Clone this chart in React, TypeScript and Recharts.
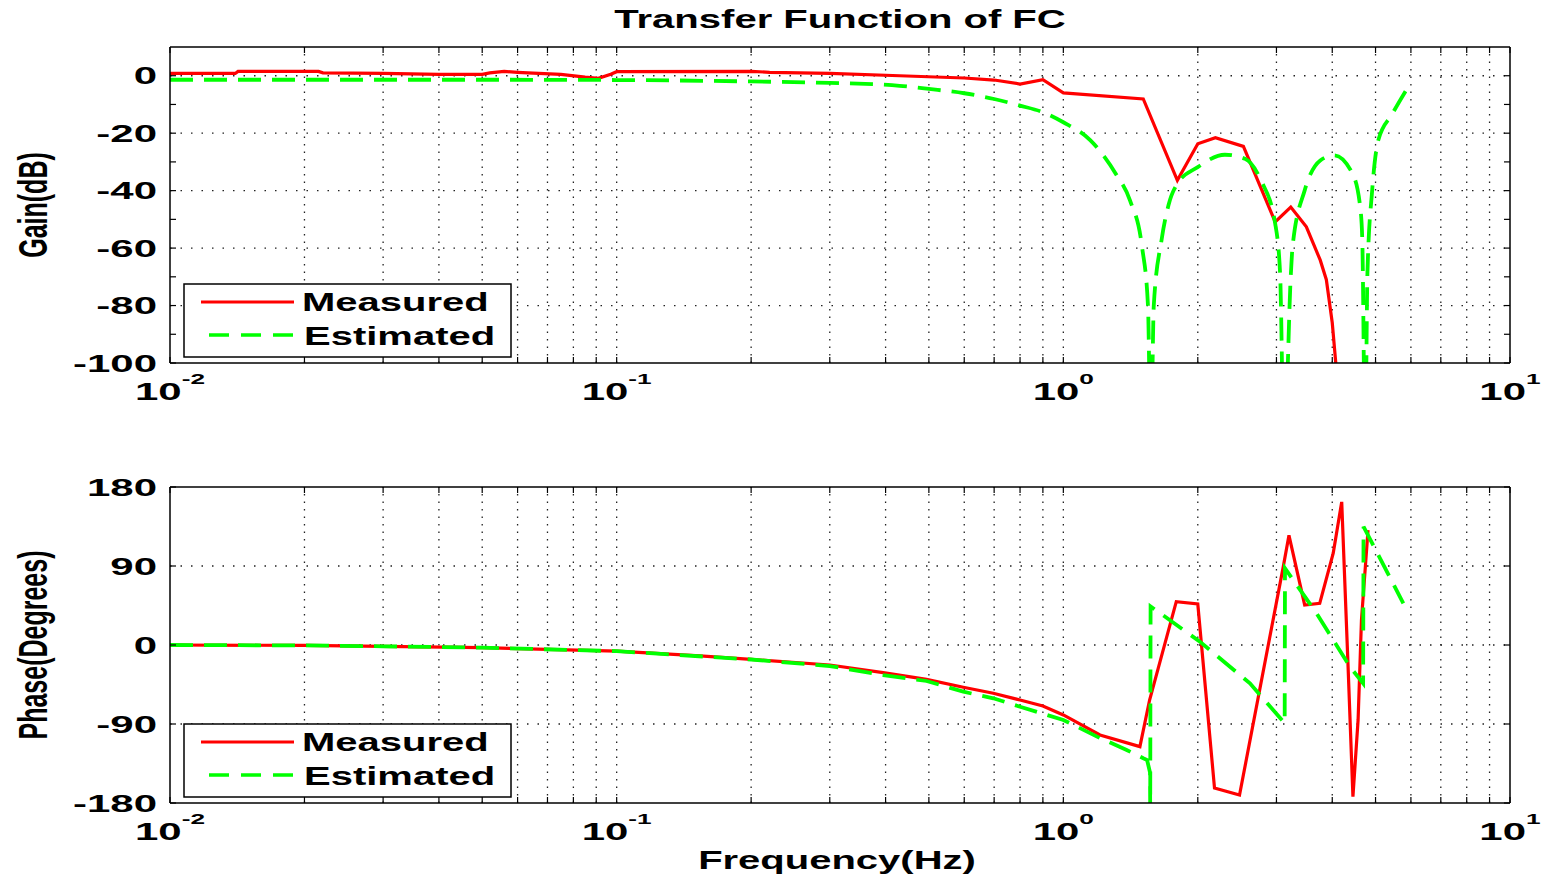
import React from 'react';
import { LineChart, Line, XAxis, YAxis, ReferenceLine, Legend, Label } from 'recharts';

const RED = '#ff0000';
const GREEN = '#00ff00';
const FONT = '"Liberation Sans", Arial, Helvetica, sans-serif';
// the original picture is stretched sideways, so its text is too
const SX = 1.6;
const SX_TICK = 1.75;

// frequency axis (log)
const freqTicks = [0.01, 0.02, 0.03, 0.04, 0.05, 0.06, 0.07, 0.08, 0.09, 0.1, 0.2, 0.3, 0.4, 0.5, 0.6, 0.7, 0.8, 0.9, 1, 2, 3, 4, 5, 6, 7, 8, 9, 10];
const freqGrid = [0.02, 0.03, 0.04, 0.05, 0.06, 0.07, 0.08, 0.09, 0.1, 0.2, 0.3, 0.4, 0.5, 0.6, 0.7, 0.8, 0.9, 1, 2, 3, 4, 5, 6, 7, 8, 9];
const decades = [0.01, 0.1, 1, 10];
const decadeExp = ['-2', '-1', '0', '1'];

// gain axis
const gainTicks = [-100, -90, -80, -70, -60, -50, -40, -30, -20, -10, 0];
const gainLabels = [-100, -80, -60, -40, -20, 0];
const gainGrid = [-80, -60, -40, -20, 0];

// phase axis
const phaseTicks = [-180, -90, 0, 90, 180];
const phaseGrid = [-90, 0, 90];

// measured gain (dB)
const gainMeasFreq = [0.01, 0.014, 0.0142, 0.0215, 0.022, 0.03, 0.04, 0.05, 0.052, 0.056, 0.06, 0.065, 0.075, 0.085, 0.091, 0.097, 0.1, 0.2, 0.22, 0.3, 0.43, 0.6, 0.7, 0.8, 0.9, 1.0, 1.51, 1.8, 2.0, 2.19, 2.53, 2.98, 3.23, 3.5, 3.76, 3.88, 4.0, 4.1];
const gainMeasVal = [0.8, 0.8, 1.5, 1.5, 1.0, 0.8, 0.5, 0.5, 1.0, 1.5, 1.2, 0.9, 0.5, -0.5, -0.9, 0.5, 1.4, 1.5, 1.2, 0.8, 0, -0.8, -1.5, -2.9, -1.4, -6, -8.1, -36.4, -23.7, -21.6, -24.6, -50.9, -45.7, -52.6, -64.2, -71, -86, -105];

// estimated gain (dB)
const gainEstFreq = [0.01, 0.05, 0.1, 0.2, 0.3, 0.43, 0.5, 0.6, 0.7, 0.8, 0.9, 1.0, 1.15, 1.31, 1.41, 1.5, 1.547, 1.57, 1.594, 1.66, 1.72, 1.8, 2.0, 2.3, 2.55, 2.77, 2.98, 3.057, 3.12, 3.232, 3.26, 3.47, 3.76, 4.04, 4.44, 4.62, 4.67, 4.74, 4.795, 4.914, 5.07, 5.45, 5.91];
const gainEstVal = [-1.4, -1.4, -1.5, -2.0, -2.5, -3.5, -4.6, -6.1, -8.1, -10.4, -12.7, -16.2, -22.5, -34.1, -43.4, -59.5, -80, -130, -80, -57, -45, -37.6, -31.8, -27.5, -28.9, -36.4, -51.4, -68.8, -130, -68.8, -59.5, -39.9, -29.5, -27.7, -34.1, -45.7, -57.2, -130, -68.8, -39.9, -22.5, -13.3, -4];

// measured phase (deg)
const phaseMeasFreq = [0.01, 0.02, 0.03, 0.05, 0.1, 0.1536, 0.2, 0.3, 0.395, 0.494, 0.597, 0.697, 0.8, 0.9, 1.0, 1.208, 1.484, 1.56, 1.79, 2.0, 2.18, 2.48, 3.107, 3.2, 3.47, 3.75, 4.02, 4.2, 4.34, 4.45, 4.57, 4.65, 4.81];
const phaseMeasVal = [0, -0.5, -1.5, -3, -7, -12.5, -16.3, -22.8, -31.5, -39.1, -48.2, -55, -62.7, -69.5, -79.7, -102.5, -115.8, -62.7, 49.4, 46.7, -163, -171, 89, 125, 45.6, 47.5, 104.5, 163, -24.7, -172.8, -85.4, 28.5, 131];

// estimated phase (deg)
const phaseEstFreq = [0.01, 0.02, 0.03, 0.05, 0.1, 0.2, 0.3, 0.395, 0.494, 0.597, 0.697, 0.8, 1.0, 1.208, 1.386, 1.51, 1.54, 1.563, 1.565, 1.568, 2.022, 2.617, 3.13, 3.135, 3.69, 4.38, 4.69, 4.7, 5.77];
const phaseEstVal = [0, -0.5, -1.5, -3, -7, -16.5, -24, -34.2, -41, -53.2, -60.7, -70.3, -85.4, -106, -119.6, -129, -131, -145, -185, 44, 3.8, -43.7, -89.2, 87.4, 36, -24.7, -43.7, 134.8, 47.5];

const toPoints = (fs: number[], vs: number[]) => fs.map((f, i) => ({ f, v: vs[i] }));

const TICK_LEN = 6;

const BottomTick = (props: any) => {
  const { x, y, payload } = props;
  const i = decades.indexOf(payload.value);
  return (
    <g>
      <line x1={x} y1={y} x2={x} y2={y - TICK_LEN} stroke="#000" strokeWidth={1.2} />
      {i >= 0 && (
        <text transform={`translate(${x},${y + 37}) scale(${SX_TICK},1)`} textAnchor="middle" fontFamily={FONT} fontWeight="bold" fontSize={24} fill="#000">
          10<tspan dy={-16} fontSize={15}>{decadeExp[i]}</tspan>
        </text>
      )}
    </g>
  );
};

const TopTick = (props: any) => {
  const { x, y } = props;
  return <line x1={x} y1={y} x2={x} y2={y + TICK_LEN} stroke="#000" strokeWidth={1.2} />;
};

const makeLeftTick = (labels: number[]) => (props: any) => {
  const { x, y, payload } = props;
  return (
    <g>
      <line x1={x} y1={y} x2={x + TICK_LEN} y2={y} stroke="#000" strokeWidth={1.2} />
      {labels.includes(payload.value) && (
        <text transform={`translate(${x - 13},${y + 8.5}) scale(${SX_TICK},1)`} textAnchor="end" fontFamily={FONT} fontWeight="bold" fontSize={24} fill="#000">
          {payload.value}
        </text>
      )}
    </g>
  );
};

const RightTick = (props: any) => {
  const { x, y } = props;
  return <line x1={x} y1={y} x2={x - TICK_LEN} y2={y} stroke="#000" strokeWidth={1.2} />;
};

const yLabel = (text: string) => (props: any) => {
  const vb = props.viewBox;
  return (
    <text transform={`translate(47,${vb.y + vb.height / 2}) scale(${SX},1) rotate(-90)`} textAnchor="middle" fontFamily={FONT} fontWeight="bold" fontSize={25} fill="#000">
      {text}
    </text>
  );
};

const TitleLabel = (props: any) => {
  const vb = props.viewBox;
  return (
    <text transform={`translate(${vb.x + vb.width / 2},${vb.y - 18}) scale(1.54,1)`} textAnchor="middle" fontFamily={FONT} fontWeight="bold" fontSize={26} fill="#000">
      Transfer Function of FC
    </text>
  );
};

const XLabel = (props: any) => {
  const vb = props.viewBox;
  return (
    <text transform={`translate(${vb.x + vb.width / 2 - 3},${vb.y + 66}) scale(${SX},1)`} textAnchor="middle" fontFamily={FONT} fontWeight="bold" fontSize={25} fill="#000">
      Frequency(Hz)
    </text>
  );
};

const LegendBox = () => (
  <svg width={329} height={76} style={{ display: 'block' }}>
    <rect x={1} y={1} width={327} height={73} fill="#fff" stroke="#000" strokeWidth={1.5} />
    <line x1={18} y1={19} x2={111} y2={19} stroke={RED} strokeWidth={3} />
    <text transform={`translate(119,28) scale(${SX},1)`} fontFamily={FONT} fontWeight="bold" fontSize={25} fill="#000">Measured</text>
    <line x1={26} y1={52} x2={111} y2={52} stroke={GREEN} strokeWidth={3.5} strokeDasharray="20 12" />
    <text transform={`translate(121,62) scale(${SX},1)`} fontFamily={FONT} fontWeight="bold" fontSize={25} fill="#000">Estimated</text>
  </svg>
);

const axisLine = { stroke: '#000', strokeWidth: 1.5 };
const gridH = { stroke: '#222', strokeWidth: 1.3, strokeDasharray: '1.5 9' };
const gridV = { stroke: '#222', strokeWidth: 1.3, strokeDasharray: '1.5 6' };

function Panel(props: {
  top: number;
  yDomain: [number, number];
  yTicks: number[];
  yLabels: number[];
  yGrid: number[];
  yTitle: string;
  measured: { f: number; v: number }[];
  estimated: { f: number; v: number }[];
  smoothEstimate: boolean;
  title?: boolean;
  xTitle?: boolean;
  legendTop: number;
}) {
  const { top, yDomain, yTicks, yLabels, yGrid, yTitle, measured, estimated } = props;
  const bottomH = props.xTitle ? 73 : 75;
  return (
    <LineChart width={1550} height={438} margin={{ top: top - 1, right: 39, bottom: 0, left: 0 }}>
      <XAxis xAxisId={0} dataKey="f" type="number" scale="log" domain={[0.01, 10]} allowDataOverflow ticks={freqTicks} interval={0}
        tick={BottomTick} tickSize={0} tickMargin={0} tickLine={false} axisLine={axisLine} height={bottomH}>
        {props.xTitle && <Label content={XLabel} />}
      </XAxis>
      <XAxis xAxisId="top" orientation="top" dataKey="f" type="number" scale="log" domain={[0.01, 10]} allowDataOverflow ticks={freqTicks} interval={0}
        tick={TopTick} tickSize={0} tickMargin={0} tickLine={false} axisLine={axisLine} height={1}>
        {props.title && <Label content={TitleLabel} />}
      </XAxis>
      <YAxis yAxisId={0} type="number" domain={yDomain} allowDataOverflow ticks={yTicks} interval={0}
        tick={makeLeftTick(yLabels)} tickSize={0} tickMargin={0} tickLine={false} axisLine={axisLine} width={170}>
        <Label content={yLabel(yTitle)} />
      </YAxis>
      <YAxis yAxisId="right" orientation="right" type="number" domain={yDomain} allowDataOverflow ticks={yTicks} interval={0}
        tick={RightTick} tickSize={0} tickMargin={0} tickLine={false} axisLine={axisLine} width={1} />
      {freqGrid.map((g) => (
        <ReferenceLine key={'v' + g} x={g} {...gridV} />
      ))}
      {yGrid.map((g) => (
        <ReferenceLine key={'h' + g} y={g} {...gridH} />
      ))}
      <Line data={measured} dataKey="v" name="Measured" type="linear" stroke={RED} strokeWidth={3.2} dot={false} isAnimationActive={false} />
      <Line data={estimated} dataKey="v" name="Estimated" type={props.smoothEstimate ? 'monotoneX' : 'linear'} stroke={GREEN} strokeWidth={3.8}
        strokeDasharray="23 11" dot={false} isAnimationActive={false} />
      <Legend content={LegendBox} layout="vertical" align="center" verticalAlign="middle"
        wrapperStyle={{ left: 183, top: props.legendTop, width: 329, height: 76 }} />
    </LineChart>
  );
}

export default function App() {
  return (
    <div style={{ position: 'absolute', left: 0, top: 0, width: 1550, height: 876, background: '#fff' }}>
      <Panel top={47} yDomain={[-100, 10]} yTicks={gainTicks} yLabels={gainLabels} yGrid={gainGrid} yTitle="Gain(dB)"
        measured={toPoints(gainMeasFreq, gainMeasVal)} estimated={toPoints(gainEstFreq, gainEstVal)} smoothEstimate title legendTop={283} />
      <Panel top={49} yDomain={[-180, 180]} yTicks={phaseTicks} yLabels={phaseTicks} yGrid={phaseGrid} yTitle="Phase(Degrees)"
        measured={toPoints(phaseMeasFreq, phaseMeasVal)} estimated={toPoints(phaseEstFreq, phaseEstVal)} smoothEstimate={false} xTitle legendTop={285} />
    </div>
  );
}
